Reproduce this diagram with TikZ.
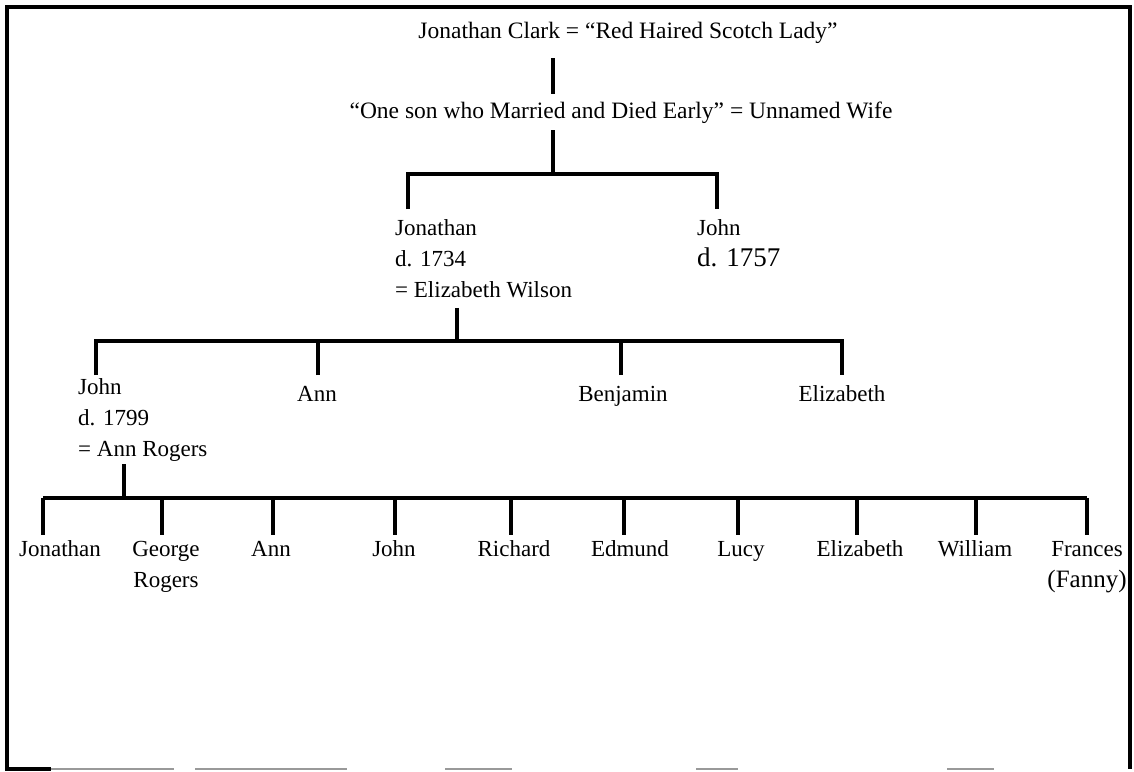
\documentclass[tikz,border=0pt]{standalone}
\usepackage{fontspec}
\setmainfont{Liberation Serif}
\newcommand{\haut}{\rule{0pt}{16pt}}

\begin{document}
\begin{tikzpicture}[x=1pt, y=-1pt,
    trait/.style={line width=4.5pt, line join=miter},
    nom/.style={font=\fontsize{23}{31}\selectfont, align=center,
        inner xsep=0pt, inner ysep=#1},
    nom/.default=5pt]
    \useasboundingbox (0,0) rectangle (1134,771);

    % Cadre (le bord du bas est presque effacé)
    \draw[line width=3.5pt] (7,769) -- (7,7) -- (1130,7) -- (1130,769);
    \draw[line width=3.5pt] (5,769) -- (51,769);
    \foreach \a/\b in {51/174, 195/347, 445/512, 696/738, 947/994}
        \draw[black!40, line width=1.5pt] (\a,769) -- (\b,769);

    % Ancêtres
    \node[nom=15pt, font=\fontsize{23.5}{31}\selectfont, anchor=base] (clark) at (628,38)
        {Jonathan Clark = “Red Haired Scotch Lady”};
    \node[nom=7pt, font=\fontsize{23.5}{31}\selectfont, anchor=base] (fils) at (621,118)
        {“One son who Married and Died Early” = Unnamed Wife};
    \coordinate (t1) at (553,174);
    \draw[trait] (clark.south -| t1) -- (fils.north -| t1);
    \draw[trait] (fils.south -| t1) -- (t1);

    % Deuxième génération
    \coordinate (b1g) at (408,174);
    \coordinate (b1d) at (717,174);
    \node[nom=10pt, align=left, anchor=north west] (jonathan) at (395,209)
        {\haut Jonathan\\d. 1734\\= Elizabeth Wilson};
    \node[nom=10pt, align=left, anchor=north west] (john) at (697,209)
        {\haut John\\{\fontsize{27}{31}\selectfont d. 1757}};
    \draw[trait] (jonathan.north -| b1g) -- (b1g) -- (b1d) -- (john.north -| b1d);

    % Troisième génération
    \coordinate (t2) at (457,341);
    \coordinate (b2g) at (96,341);
    \coordinate (b2d) at (842,341);
    \draw[trait] (jonathan.south -| t2) -- (t2);
    \node[nom=3pt, align=left, anchor=north west] (john2) at (78,375)
        {\haut John\\d. 1799\\= Ann Rogers};
    \node[nom=10pt, anchor=north] (ann) at (317,375) {\haut Ann};
    \node[nom=10pt, anchor=north] (benjamin) at (623,375) {\haut Benjamin};
    \node[nom=10pt, anchor=north] (elizabeth) at (842,375) {\haut Elizabeth};
    \draw[trait] (john2.north -| b2g) -- (b2g) -- (b2d) -- (elizabeth.north -| b2d);
    \draw[trait] (ann.north -| 318,0) -- (318,341);
    \draw[trait] (benjamin.north -| 621,0) -- (621,341);

    % Quatrième génération
    \coordinate (t3) at (124,498);
    \draw[trait] (john2.south -| t3) -- (t3);
    \foreach \d/\x/\n/\t in {43/60/e1/Jonathan, 162/166/e2/{George\\Rogers}, 273/271/e3/Ann,
        395/394/e4/John, 511/514/e5/Richard, 624/630/e6/Edmund, 738/741/e7/Lucy,
        857/860/e8/Elizabeth, 976/975/e9/William,
        1087/1087/e10/{Frances\\{\fontsize{25}{31}\selectfont(Fanny)}}}
    {
        \node[nom, anchor=north] (\n) at (\x,535) {\haut\t};
        \coordinate (c\n) at (\d,498);
        \draw[trait] (c\n) -- (\n.north -| c\n);
    }
    \draw[trait] (ce1) -- (ce10);
\end{tikzpicture}
\end{document}
